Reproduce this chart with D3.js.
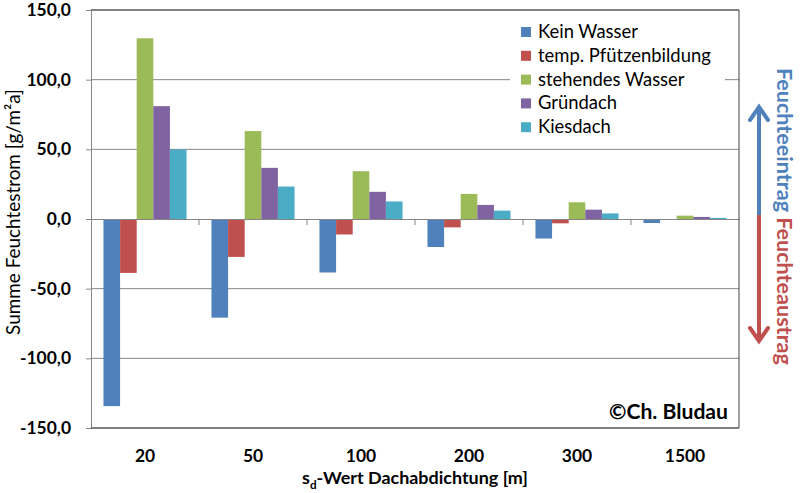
<!DOCTYPE html>
<html>
<head>
<meta charset="utf-8">
<script src="https://cdn.jsdelivr.net/npm/d3@7"></script>
<style>
  body { margin: 0; background: #fff; }
  svg text { font-family: Lato, "Open Sans", sans-serif; }
</style>
</head>
<body>
<svg id="chart" width="800" height="493"></svg>
<script>
// categories (s_d value of roof membrane)
var categories = ["20", "50", "100", "200", "300", "1500"];
var seriesNames = ["Kein Wasser", "temp. Pfützenbildung", "stehendes Wasser", "Gründach", "Kiesdach"];
var seriesColors = ["#4F81BD", "#C0504D", "#9BBB59", "#8064A2", "#4BACC6"];

// values, g/m²a
var keinWasser = [-134.3, -70.8, -38.4, -20.1, -14.0, -2.9];
var tempPfuetze = [-38.7, -27.2, -11.1, -6.0, -3.1, -0.7];
var stehendesWasser = [129.7, 63.1, 34.3, 18.0, 12.0, 2.4];
var gruendach = [81.0, 36.7, 19.5, 10.1, 6.7, 1.5];
var kiesdach = [49.9, 23.3, 12.6, 6.0, 4.0, 0.8];

var yTicks = [-150, -100, -50, 0, 50, 100, 150];

var allSeries = [keinWasser, tempPfuetze, stehendesWasser, gruendach, kiesdach];

var svg = d3.select("#chart");
var margin = {left: 91, right: 61, top: 10, bottom: 65};
var W = 800, H = 493;

// scale a text's font so its width matches what the reference shows
function fitSize(sample, weight, target) {
  var t = svg.append("text").attr("font-size", 20).attr("font-weight", weight).text(sample);
  var w = t.node().getComputedTextLength();
  t.remove();
  return 20 * target / w;
}
var tickSize = fitSize("100,0", "bold", 44.6);
var legendSize = fitSize("Kein Wasser", "normal", 100);

var x = d3.scaleBand().domain(categories).range([margin.left, W - margin.right]).padding(0);
var xs = d3.scaleBand().domain(seriesNames).range([0, x.bandwidth()]).paddingInner(0).paddingOuter(0.75);
var y = d3.scaleLinear().domain([-150, 150]).range([H - margin.bottom, margin.top]);

var gridColor = "#868686";

// gridlines
svg.append("g").selectAll("line")
  .data(yTicks.filter(function(d){ return d !== 0; }))
  .enter().append("line")
    .attr("x1", margin.left).attr("x2", W - margin.right)
    .attr("y1", function(d){ return y(d); }).attr("y2", function(d){ return y(d); })
    .attr("stroke", gridColor).attr("stroke-width", 1);

// y axis
var yAxis = d3.axisLeft(y).tickValues(yTicks).tickSize(5).tickPadding(15)
  .tickFormat(function(d){ return d3.format(".1f")(d).replace(".", ",").replace("−", "-"); });
var gy = svg.append("g").attr("transform", "translate(" + margin.left + ",0)").call(yAxis);
gy.select(".domain").attr("stroke", gridColor);
gy.selectAll(".tick line").attr("stroke", gridColor);
gy.selectAll(".tick text").attr("font-size", tickSize).attr("font-weight", "bold").attr("fill", "#000")
  .attr("font-family", "Lato, sans-serif");

// legend background (covers gridlines)
var legend = svg.append("g");
legend.append("rect").attr("x", 510).attr("y", 18).attr("width", 215).attr("height", 120).attr("fill", "#fff");

// bars
var groups = svg.append("g").selectAll("g")
  .data(allSeries).enter().append("g")
    .attr("fill", function(d, i){ return seriesColors[i]; });

groups.each(function(vals, si){
  d3.select(this).selectAll("rect")
    .data(vals).enter().append("rect")
      .attr("x", function(d, ci){ return x(categories[ci]) + xs(seriesNames[si]); })
      .attr("width", xs.bandwidth())
      .attr("y", function(d){ return Math.min(y(d), y(0)); })
      .attr("height", function(d){ return Math.abs(y(d) - y(0)); });
});

// x axis at zero
var xAxis = d3.axisBottom(x).tickSize(0).tickFormat("");
var gx = svg.append("g").attr("transform", "translate(0," + y(0) + ")").call(xAxis);
gx.select(".domain").attr("stroke", gridColor);
gx.selectAll(".tick").remove();
gx.selectAll(".sep").data(categories.slice(1)).enter().append("line")
  .attr("x1", function(d){ return x(d); }).attr("x2", function(d){ return x(d); })
  .attr("y1", 0).attr("y2", 6).attr("stroke", gridColor);

// category labels
svg.append("g").selectAll("text").data(categories).enter().append("text")
  .attr("x", function(d){ return x(d) + x.bandwidth() / 2; })
  .attr("y", 462)
  .attr("text-anchor", "middle").attr("font-size", tickSize).attr("font-weight", "bold")
  .text(function(d){ return d; });

// frame: top, right and bottom
svg.append("line").attr("x1", margin.left).attr("x2", W - margin.right)
  .attr("y1", y(150)).attr("y2", y(150)).attr("stroke", "#404040");
svg.append("line").attr("x1", W - margin.right).attr("x2", W - margin.right)
  .attr("y1", y(150)).attr("y2", y(-150)).attr("stroke", "#404040");
svg.append("line").attr("x1", margin.left).attr("x2", W - margin.right)
  .attr("y1", y(-150)).attr("y2", y(-150)).attr("stroke", "#404040");

// legend items
var li = legend.selectAll(".item").data(seriesNames).enter().append("g")
  .attr("transform", function(d, i){ return "translate(521," + (32 + i * 23.8) + ")"; });
li.append("rect").attr("x", 0).attr("y", -5).attr("width", 10).attr("height", 10)
  .attr("fill", function(d, i){ return seriesColors[i]; });
li.append("text").attr("x", 17).attr("y", 6).attr("font-size", legendSize).text(function(d){ return d; });

// axis titles
var yTitle = svg.append("text")
  .attr("transform", "translate(20,212) rotate(-90)")
  .attr("text-anchor", "middle").attr("font-size", 20)
  .text("Summe Feuchtestrom [g/m²a]");
yTitle.attr("font-size", 20 * 246 / yTitle.node().getComputedTextLength());

var xt = svg.append("text").attr("x", 415).attr("y", 484)
  .attr("text-anchor", "middle").attr("font-size", 20).attr("font-weight", "bold");
xt.append("tspan").text("s");
xt.append("tspan").attr("font-size", "0.65em").attr("dy", 5).text("d");
xt.append("tspan").attr("dy", -5).text("-Wert Dachabdichtung [m]");
xt.attr("font-size", 20 * 226 / xt.node().getComputedTextLength());

// copyright
var cp = svg.append("text").attr("x", 728).attr("y", 419).attr("text-anchor", "end")
  .attr("font-size", 20).attr("font-weight", "bold").text("©Ch. Bludau");
cp.attr("font-size", 20 * 119 / cp.node().getComputedTextLength());

// direction arrow
var ax = 759, yMid = 215;
svg.append("line").attr("x1", ax).attr("x2", ax).attr("y1", 107).attr("y2", yMid)
  .attr("stroke", "#4F81BD").attr("stroke-width", 4);
svg.append("line").attr("x1", ax).attr("x2", ax).attr("y1", yMid).attr("y2", 341)
  .attr("stroke", "#C0504D").attr("stroke-width", 4);
svg.append("path").attr("d", "M" + (ax - 9) + ",120 L" + ax + ",107 L" + (ax + 9) + ",120")
  .attr("fill", "none").attr("stroke", "#4F81BD").attr("stroke-width", 4).attr("stroke-linecap", "round");
svg.append("path").attr("d", "M" + (ax - 9) + ",328 L" + ax + ",341 L" + (ax + 9) + ",328")
  .attr("fill", "none").attr("stroke", "#C0504D").attr("stroke-width", 4).attr("stroke-linecap", "round");

var rt = svg.append("text").attr("transform", "translate(777,68) rotate(90)")
  .attr("font-size", 20).attr("font-weight", "bold");
rt.append("tspan").attr("fill", "#4F81BD").text("Feuchteeintrag");
rt.append("tspan").attr("fill", "#C0504D").text(" Feuchteaustrag");
rt.attr("font-size", 20 * 297 / rt.node().getComputedTextLength());
</script>
</body>
</html>
